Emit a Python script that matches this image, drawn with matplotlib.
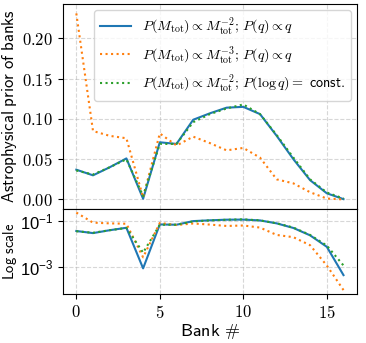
import numpy as np
import matplotlib
matplotlib.use('Agg')
import matplotlib.pyplot as plt
from matplotlib.ticker import NullLocator, FuncFormatter

plt.rcParams['mathtext.fontset'] = 'cm'
plt.rcParams['font.family'] = ['Liberation Sans', 'DejaVu Sans']

# bank index
banks = np.arange(17)

# P(Mtot) ~ Mtot^-2, P(q) ~ q
prior_m2_q = [0.037, 0.030, 0.040, 0.051, 0.0009, 0.071, 0.069, 0.099, 0.107,
              0.114, 0.115, 0.106, 0.079, 0.050, 0.024, 0.0077, 0.00046]
# P(Mtot) ~ Mtot^-3, P(q) ~ q
prior_m3_q = [0.231, 0.085, 0.079, 0.076, 0.0027, 0.082, 0.067, 0.078, 0.070,
              0.061, 0.064, 0.052, 0.025, 0.020, 0.009, 0.0012, 0.000104]
# P(Mtot) ~ Mtot^-2, P(log q) = const
prior_m2_logq = [0.036, 0.031, 0.040, 0.050, 0.0043, 0.069, 0.069, 0.096, 0.106,
                 0.113, 0.118, 0.106, 0.080, 0.052, 0.025, 0.0087, 0.0012]

labels = [r'$P(M_{\rm tot}) \propto M_{\rm tot}^{-2};\, P(q) \propto q$',
          r'$P(M_{\rm tot}) \propto M_{\rm tot}^{-3};\, P(q) \propto q$',
          r'$P(M_{\rm tot}) \propto M_{\rm tot}^{-2};\, P(\log q){=}\ \mathsf{const.}$']

fig, (ax1, ax2) = plt.subplots(2, 1, sharex=True, figsize=(3.66, 3.43), dpi=100,
                               gridspec_kw={'height_ratios': [2.4, 1], 'hspace': 0})
fig.subplots_adjust(left=0.172, right=0.975, top=0.988, bottom=0.143)

for ax in (ax1, ax2):
    ax.plot(banks, prior_m2_q, color='C0', ls='-', lw=1.5, label=labels[0])
    ax.plot(banks, prior_m3_q, color='C1', ls=':', lw=1.5, label=labels[1])
    ax.plot(banks, prior_m2_logq, color='C2', ls=':', lw=1.5, label=labels[2])
    ax.grid(True, ls='--', alpha=0.5)
    ax.tick_params(labelsize=12)

ax1.set_yticks([0, 0.05, 0.10, 0.15, 0.20])
ax1.yaxis.set_major_formatter(FuncFormatter(lambda v, p: r'$%.2f$' % v))
ax1.set_ylabel(r'$\mathsf{Astrophysical\ prior\ of\ banks}$', fontsize=12, labelpad=1)
ax1.legend(loc='upper right', fontsize=10.2, handlelength=2.2, borderaxespad=0.4,
           labelspacing=0.45)

ax2.set_yscale('log')
ax2.set_yticks([1e-3, 1e-1])
ax2.yaxis.set_minor_locator(NullLocator())
ax2.set_ylabel(r'$\mathsf{Log\ scale}$', fontsize=10.5, labelpad=1)
ax2.set_xticks([0, 5, 10, 15])
ax2.xaxis.set_major_formatter(FuncFormatter(lambda v, p: r'$%d$' % v))
ax2.set_xlabel(r'$\mathsf{Bank}\ \#$', fontsize=13, labelpad=1)
fig.align_ylabels([ax1, ax2])

plt.savefig('out.png', dpi=100)
plt.close()
